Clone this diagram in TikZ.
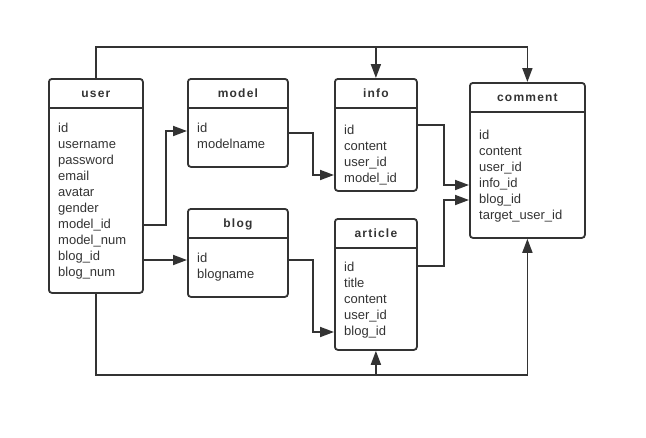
\documentclass[tikz,border=0pt]{standalone}
\usepackage{fontspec}
\setmainfont{Liberation Sans}
\newfontfamily\headfont[LetterSpace=10]{Liberation Sans}
\usetikzlibrary{arrows.meta}
\definecolor{ink}{HTML}{333333}
\tikzset{
  >={Triangle[length=14pt,width=10pt]},
}
\tikzstyle{table}=[draw=ink,line width=1.8pt,rounded corners=3pt,inner sep=0pt,anchor=north west]
\tikzstyle{rule}=[draw=ink,line width=1.8pt]
\tikzstyle{title}=[font=\headfont\bfseries\fontsize{12}{14}\selectfont,text=ink,anchor=base]
\tikzstyle{fields}=[font=\fontsize{13}{16}\selectfont,text=ink,align=left,anchor=north west,inner sep=0pt]
\tikzstyle{link}=[draw=ink,line width=1.8pt,->]

\begin{document}
\begin{tikzpicture}[x=1pt,y=-1pt]
  \useasboundingbox (0,0) rectangle (646,437);

  % tables
  \node[table,minimum width=94pt,minimum height=214pt] (user) at (48,78) {};
  \node[table,minimum width=100pt,minimum height=88pt] (model) at (187,78) {};
  \node[table,minimum width=100pt,minimum height=88pt] (blog) at (187,208) {};
  \node[table,minimum width=82pt,minimum height=112pt] (info) at (334,78) {};
  \node[table,minimum width=82pt,minimum height=131pt] (article) at (334,218) {};
  \node[table,minimum width=115pt,minimum height=155pt] (comment) at (469,82) {};

  % header rules
  \foreach \t in {user,model,blog,info,article,comment}
    \draw[rule] ([yshift=-30pt]\t.north west) -- ([yshift=-30pt]\t.north east);

  % titles
  \node[title] (usertitle) at ([yshift=-19pt]user.north) {user};
  \node[title] (modeltitle) at ([yshift=-19pt]model.north) {model};
  \node[title] (blogtitle) at ([yshift=-19pt]blog.north) {blog};
  \node[title] (infotitle) at ([yshift=-19pt]info.north) {info};
  \node[title] (articletitle) at ([yshift=-19pt]article.north) {article};
  \node[title] (commenttitle) at ([yshift=-19pt]comment.north) {comment};

  % fields
  \node[fields] (userfields) at ([xshift=10pt,yshift=-43pt]user.north west)
    {\strut id\\username\\password\\email\\avatar\\gender\\model\_id\\model\_num\\blog\_id\\blog\_num};
  \node[fields] (modelfields) at ([xshift=10pt,yshift=-43pt]model.north west)
    {\strut id\\modelname};
  \node[fields] (blogfields) at ([xshift=10pt,yshift=-43pt]blog.north west)
    {\strut id\\blogname};
  \node[fields] (infofields) at ([xshift=10pt,yshift=-45pt]info.north west)
    {\strut id\\content\\user\_id\\model\_id};
  \node[fields] (articlefields) at ([xshift=10pt,yshift=-42pt]article.north west)
    {\strut id\\title\\content\\user\_id\\blog\_id};
  \node[fields] (commentfields) at ([xshift=10pt,yshift=-46pt]comment.north west)
    {\strut id\\content\\user\_id\\info\_id\\blog\_id\\target\_user\_id};

  % links
  \coordinate (topbus) at (0,47);
  \coordinate (botbus) at (0,375);
  \draw[link] (user.north) |- (topbus -| comment.north) -- (comment.north);
  \draw[link] (topbus -| info.north) -- (info.north);
  \draw[link] (user.south) |- (botbus -| comment.south) -- (comment.south);
  \draw[link] (botbus -| article.south) -- (article.south);

  \draw[link] ([yshift=-147pt]user.north east) -- ++(22,0) |- ([yshift=-53pt]model.north west);
  \draw[link] ([yshift=-182pt]user.north east) -- ([yshift=-52pt]blog.north west);
  \draw[link] ([yshift=-55pt]model.north east) -- ++(24,0) |- ([yshift=-97pt]info.north west);
  \draw[link] ([yshift=-52pt]blog.north east) -- ++(24,0) |- ([yshift=-114pt]article.north west);
  \draw[link] ([yshift=-47pt]info.north east) -- ++(26,0) |- ([yshift=-103pt]comment.north west);
  \draw[link] ([yshift=-48pt]article.north east) -- ++(26,0) |- ([yshift=-118pt]comment.north west);
\end{tikzpicture}
\end{document}
